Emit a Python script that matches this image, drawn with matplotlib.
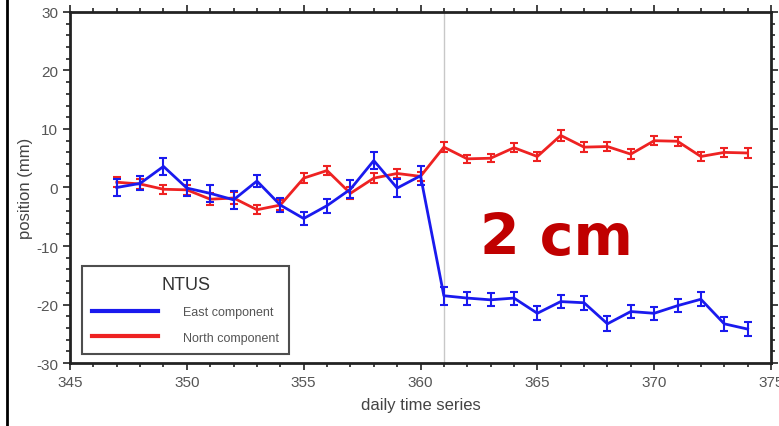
import matplotlib
matplotlib.use("Agg")
import matplotlib.pyplot as plt
from matplotlib.lines import Line2D
from matplotlib.ticker import MultipleLocator

plt.rcParams["font.family"] = ["Liberation Sans", "DejaVu Sans"]
plt.rcParams["axes.unicode_minus"] = False

days = list(range(347, 375))
east = [0.0, 0.7, 3.6, -0.1, -1.0, -2.1, 1.1, -3.0, -5.3, -3.1, -0.3, 4.6, -0.1, 2.0,
        -18.5, -18.9, -19.2, -18.9, -21.5, -19.5, -19.7, -23.3, -21.2, -21.5, -20.2, -19.1, -23.3, -24.2]
east_err = [1.4, 1.2, 1.5, 1.3, 1.4, 1.5, 1.1, 1.2, 1.1, 1.2, 1.5, 1.5, 1.5, 1.6,
            1.5, 1.1, 1.1, 1.1, 1.2, 1.1, 1.2, 1.3, 1.1, 1.1, 1.1, 1.2, 1.2, 1.2]
north = [0.9, 0.6, -0.3, -0.4, -2.0, -1.8, -3.8, -3.0, 1.6, 2.9, -1.0, 1.6, 2.4, 1.9,
         6.9, 4.9, 5.0, 6.8, 5.3, 8.9, 6.9, 7.0, 5.7, 8.0, 7.9, 5.3, 6.0, 5.9]
north_err = [0.9, 0.8, 0.8, 0.8, 1.0, 1.0, 0.8, 0.8, 0.8, 0.8, 1.0, 0.8, 0.8, 0.8,
             0.9, 0.7, 0.7, 0.8, 0.8, 0.9, 0.8, 0.8, 0.8, 0.8, 0.8, 0.8, 0.8, 0.8]
jump_day = 361

fig = plt.figure(figsize=(7.79, 4.27), dpi=100)
ax = fig.add_axes([0.0899, 0.1475, 0.8998, 0.8221])

ax.axvline(jump_day, color="#c8c8c8", lw=1, zorder=1)

ax.errorbar(days, north, yerr=north_err, color="#ee2222", lw=2, capsize=3,
            elinewidth=1.5, capthick=1.5, zorder=3)
ax.errorbar(days, east, yerr=east_err, color="#1a1aee", lw=2, capsize=3,
            elinewidth=1.5, capthick=1.5, zorder=4)

ax.set_xlim(345, 375)
ax.set_ylim(-30, 30)
ax.xaxis.set_major_locator(MultipleLocator(5))
ax.xaxis.set_minor_locator(MultipleLocator(1))
ax.yaxis.set_major_locator(MultipleLocator(10))
ax.yaxis.set_minor_locator(MultipleLocator(2))
ax.tick_params(which="both", direction="out", colors="#222222", labelcolor="#555555",
               labelsize=11, width=1.2)
ax.tick_params(which="major", length=5)
ax.tick_params(which="minor", length=3)
ax.tick_params(which="both", top=True, right=True)
for s in ax.spines.values():
    s.set_linewidth(2)
    s.set_color("#222222")

ax.set_xlabel("daily time series", fontsize=12, color="#444444", labelpad=6)
ax.set_ylabel("position (mm)", fontsize=12, color="#444444", labelpad=2)

ax.text(365.8, -8.7, "2 cm", color="#c00000", fontsize=41, fontweight="bold",
        ha="center", va="center", family=["DejaVu Sans"])

handles = [Line2D([], [], color="#1a1aee", lw=3), Line2D([], [], color="#ee2222", lw=3)]
leg = ax.legend(handles, ["East component", "North component"], title="NTUS",
                loc="lower left", bbox_to_anchor=(0.017, 0.027), fontsize=9,
                title_fontsize=13, frameon=True, fancybox=False, handlelength=5.3,
                handletextpad=2.0, borderpad=0.8, labelspacing=1.05, borderaxespad=0)
leg.get_frame().set_edgecolor("#222222")
leg.get_frame().set_linewidth(1.5)
leg.get_title().set_color("#333333")
for t in leg.get_texts():
    t.set_color("#555555")

fig.add_artist(Line2D([7 / 779, 7 / 779], [0, 1], color="black", lw=2,
                      transform=fig.transFigure))

fig.savefig("out.png", dpi=100)
